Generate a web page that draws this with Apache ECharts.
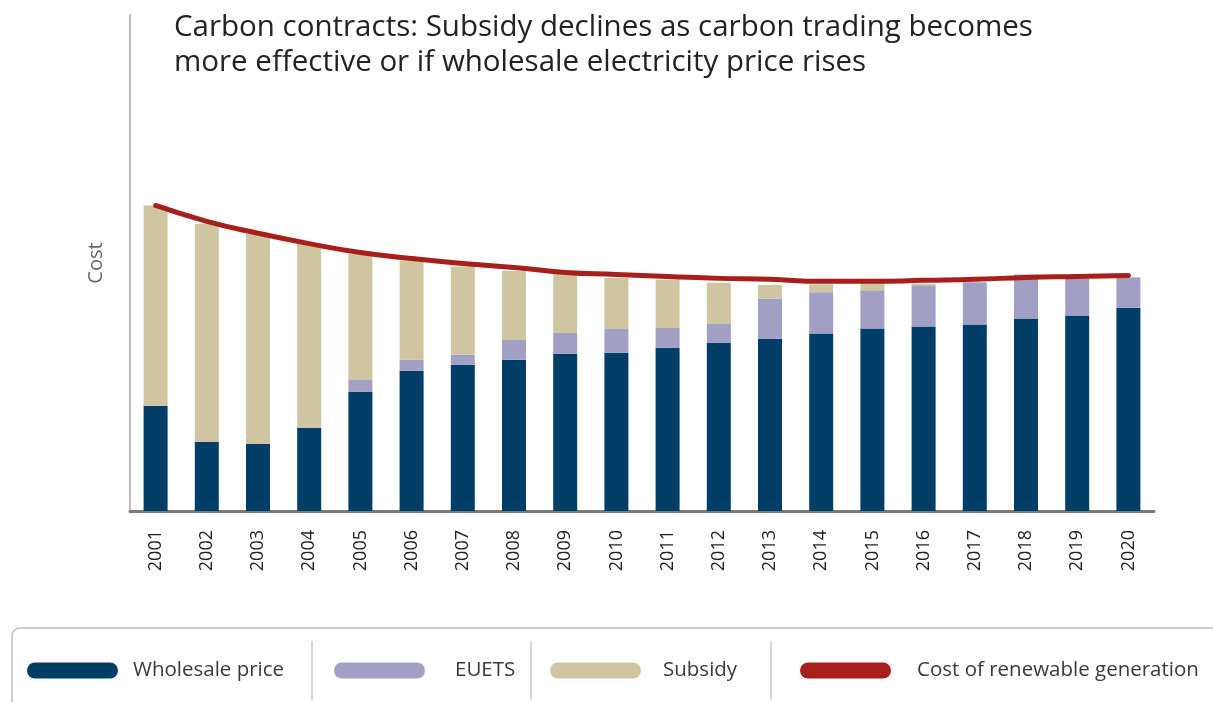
<!DOCTYPE html>
<html>
<head>
<meta charset="utf-8">
<script src="https://cdn.jsdelivr.net/npm/echarts@6/dist/echarts.min.js"></script>
<style>
  html, body { margin: 0; padding: 0; background: #fff; }
  #chart { width: 1213px; height: 702px; }
</style>
</head>
<body>
<div id="chart"></div>
<script>
const years = ['2001', '2002', '2003', '2004', '2005', '2006', '2007', '2008', '2009', '2010',
               '2011', '2012', '2013', '2014', '2015', '2016', '2017', '2018', '2019', '2020'];
const wholesale = [21.2, 13.9, 13.5, 16.8, 24.0, 28.3, 29.5, 30.5, 31.7, 31.9,
                   32.9, 33.9, 34.7, 35.8, 36.8, 37.2, 37.6, 38.8, 39.4, 41.0];
const euets = [0, 0, 0, 0, 2.4, 2.2, 2.0, 4.0, 4.2, 4.8,
               4.0, 3.8, 8.1, 8.3, 7.7, 8.3, 8.5, 8.9, 7.5, 6.1];
const subsidy = [40.4, 44.0, 42.4, 37.2, 25.5, 20.0, 17.8, 13.9, 11.9, 10.3,
                 9.7, 8.3, 2.8, 1.6, 1.4, 0.3, 0, 0, 0, 0];
const renewableCost = [61.6, 58.4, 56.0, 53.9, 52.1, 50.9, 49.9, 49.1, 48.1, 47.7,
                       47.3, 46.9, 46.7, 46.3, 46.3, 46.5, 46.7, 47.1, 47.3, 47.5];

const colWholesale = '#003d67';
const colEuets = '#a29fc4';
const colSubsidy = '#cfc6a1';
const colCost = '#a81e1a';
const fontFam = '"Open Sans", "Noto Sans", sans-serif';

// pill shaped legend icon
const pill = 'path://M8,0 L83,0 A8,8 0 0 1 83,16 L8,16 A8,8 0 0 1 8,0 Z';

function legendAt(name, left, gap) {
    return {
        data: [name],
        left: left,
        top: 660,
        padding: 0,
        icon: pill,
        itemWidth: 91,
        itemHeight: 16,
        selectedMode: false,
        textStyle: {
            fontFamily: fontFam,
            fontSize: 20.5,
            color: '#3a3a3a',
            lineHeight: 20,
            padding: [0, 0, 0, gap]
        }
    };
}

const chart = echarts.init(document.getElementById('chart'));

chart.setOption({
    animation: false,
    backgroundColor: '#fff',
    title: {
        text: 'Carbon contracts: Subsidy declines as carbon trading becomes\nmore effective or if wholesale electricity price rises',
        left: 174,
        top: 10,
        padding: 0,
        textStyle: {
            fontFamily: fontFam,
            fontSize: 29.5,
            fontWeight: 'normal',
            color: '#222',
            lineHeight: 35
        }
    },
    legend: [
        legendAt('Wholesale price', 27, 10),
        legendAt('EUETS', 334, 25),
        legendAt('Subsidy', 550, 17),
        legendAt('Cost of renewable generation', 800, 21)
    ],
    grid: {
        left: 130,
        right: 59,
        top: 15,
        bottom: 191
    },
    xAxis: {
        type: 'category',
        data: years,
        boundaryGap: true,
        axisLine: { lineStyle: { color: '#7a7a7a', width: 3 } },
        axisTick: { length: 13, lineStyle: { color: '#8a8a8a', width: 2 } },
        axisLabel: {
            rotate: 90,
            margin: 19,
            fontFamily: fontFam,
            fontSize: 18,
            color: '#222'
        },
        splitLine: { show: false }
    },
    yAxis: {
        type: 'value',
        min: 0,
        max: 100,
        name: 'Cost',
        nameLocation: 'middle',
        nameGap: 24,
        nameRotate: 90,
        nameTextStyle: {
            fontFamily: fontFam,
            fontSize: 20,
            color: '#666'
        },
        axisLine: { show: true, lineStyle: { color: '#bdbdbd', width: 2 } },
        axisTick: { show: false },
        axisLabel: { show: false },
        splitLine: { show: false }
    },
    graphic: [
        {
            type: 'rect',
            shape: { x: 12, y: 628, width: 1240, height: 90, r: 8 },
            style: { fill: 'none', stroke: '#bfbfbf', lineWidth: 1.5 },
            silent: true
        },
        {
            type: 'line',
            shape: { x1: 312, y1: 641, x2: 312, y2: 700 },
            style: { stroke: '#c8c8c8', lineWidth: 1.5 }
        },
        {
            type: 'line',
            shape: { x1: 531, y1: 641, x2: 531, y2: 700 },
            style: { stroke: '#c8c8c8', lineWidth: 1.5 }
        },
        {
            type: 'line',
            shape: { x1: 771, y1: 641, x2: 771, y2: 700 },
            style: { stroke: '#c8c8c8', lineWidth: 1.5 }
        }
    ],
    series: [
        {
            name: 'Wholesale price',
            type: 'bar',
            stack: 'cost',
            barWidth: 24,
            itemStyle: { color: colWholesale },
            data: wholesale
        },
        {
            name: 'EUETS',
            type: 'bar',
            stack: 'cost',
            barWidth: 24,
            itemStyle: { color: colEuets },
            data: euets
        },
        {
            name: 'Subsidy',
            type: 'bar',
            stack: 'cost',
            barWidth: 24,
            itemStyle: { color: colSubsidy },
            data: subsidy
        },
        {
            name: 'Cost of renewable generation',
            type: 'line',
            smooth: true,
            symbol: 'none',
            z: 5,
            lineStyle: { color: colCost, width: 5, cap: 'round' },
            itemStyle: { color: colCost },
            data: renewableCost
        }
    ]
});
</script>
</body>
</html>
